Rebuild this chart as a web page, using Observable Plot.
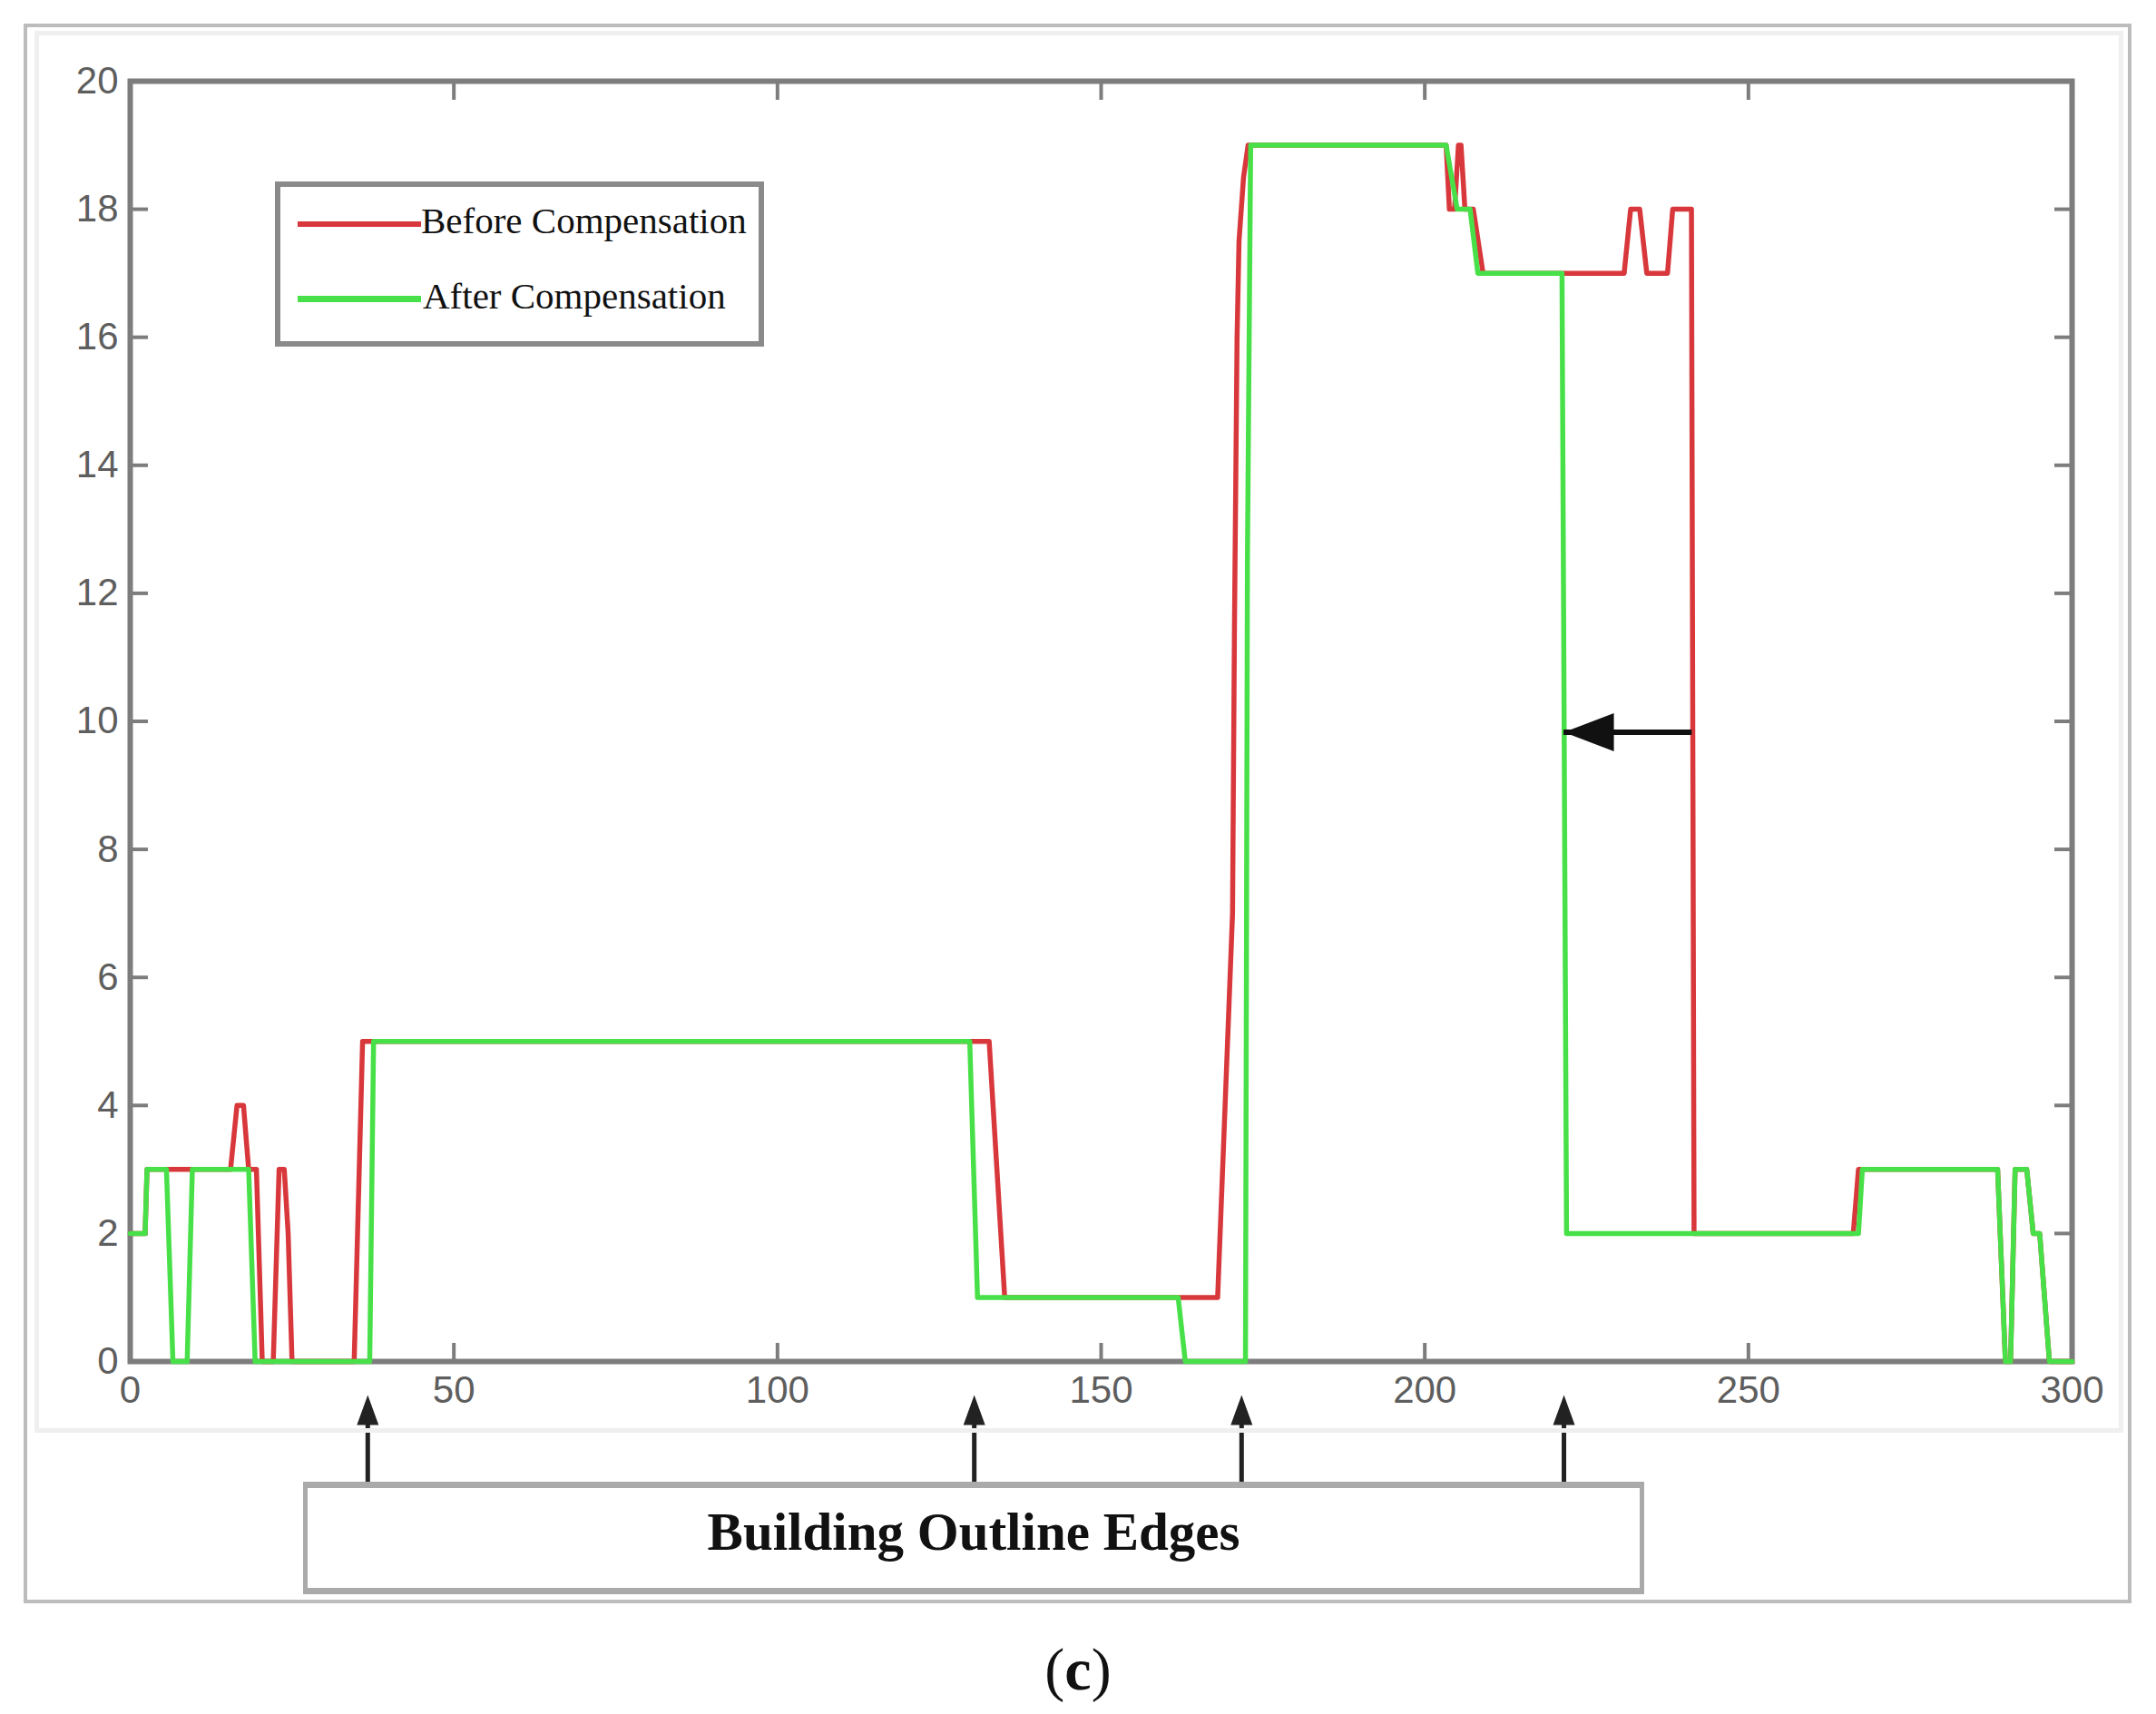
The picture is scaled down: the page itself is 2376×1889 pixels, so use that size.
<!DOCTYPE html>
<html><head><meta charset="utf-8">
<script src="https://cdn.jsdelivr.net/npm/d3@7"></script>
<script src="https://cdn.jsdelivr.net/npm/@observablehq/plot@0.6"></script>
<style>
html,body{margin:0;padding:0;background:#fff;}
#wrap{position:relative;width:2376px;height:1889px;overflow:hidden;background:#fff;}
#wrap svg{position:absolute;left:0;top:0;}
.abs{position:absolute;box-sizing:border-box;}
.serif{font-family:"Liberation Serif","Times New Roman",serif;color:#111;white-space:nowrap;line-height:1;}
</style></head><body><div id="wrap"></div>
<script>
// ---- data ----
const xTicks = [0, 50, 100, 150, 200, 250, 300];
const yTicks = [0, 2, 4, 6, 8, 10, 12, 14, 16, 18, 20];

const beforeX = [0, 2.3, 2.6, 15.5, 16.5, 17.5, 18.3, 19.5, 20.4, 22.1, 23, 23.8, 24.4, 25, 34.6, 35.9, 132.7, 135.1, 168, 170.3, 170.6, 171, 171.3, 172, 172.7, 203.3, 203.8, 204.6, 205.2, 205.6, 206.2, 207.5, 209, 230.8, 231.8, 233.2, 234.3, 237.5, 238.3, 241.2, 241.6, 266.2, 267, 288.5, 289.7, 290.5, 291.2, 293, 294, 295, 296.5, 300];
const beforeY = [2, 2, 3, 3, 4, 4, 3, 3, 0, 0, 3, 3, 2, 0, 0, 5, 5, 1, 1, 7, 11.5, 16, 17.5, 18.5, 19, 19, 18, 18, 19, 19, 18, 18, 17, 17, 18, 18, 17, 17, 18, 18, 2, 2, 3, 3, 0, 0, 3, 3, 2, 2, 0, 0];

const afterX = [0, 2.3, 2.6, 5.6, 6.6, 8.8, 9.6, 18.3, 19.3, 37, 37.6, 129.7, 130.9, 161.9, 163, 172.3, 172.6, 173.1, 203.3, 205, 207, 208.2, 221.2, 221.9, 267, 267.6, 288.5, 289.7, 290.5, 291.2, 293, 294, 295, 296.5, 300];
const afterY = [2, 2, 3, 3, 0, 0, 3, 3, 0, 0, 5, 5, 1, 1, 0, 0, 12.5, 19, 19, 18, 18, 17, 17, 2, 2, 3, 3, 0, 0, 3, 3, 2, 2, 0, 0];

const seriesNames = ["Before Compensation", "After Compensation"];
const seriesColors = ["#d8373b", "#48e048"];

const edgeX = [36.7, 130.4, 171.7, 221.5];          // building outline edges (arrows)
const shiftFrom = [241.3], shiftTo = [221.5], shiftY = [9.83]; // compensation shift arrow

// ---- tables ----
const before = beforeX.map((x, i) => ({x, y: beforeY[i]}));
const after = afterX.map((x, i) => ({x, y: afterY[i]}));
const shift = shiftFrom.map((f, i) => ({from: f, to: shiftTo[i], y: shiftY[i]}));

// custom arrow symbols (pixel shapes)
const upArrow = {draw(c) {
  c.moveTo(0, 0); c.lineTo(12, 33); c.lineTo(2.5, 33); c.lineTo(2.5, 96);
  c.lineTo(-2.5, 96); c.lineTo(-2.5, 33); c.lineTo(-12, 33); c.closePath();
}};
const leftHead = {draw(c) {
  c.moveTo(0, 0); c.lineTo(55, -21); c.lineTo(55, 21); c.closePath();
}};

const fmt = d => String(d);
const axisStyle = {stroke: "#7d7d7d", strokeWidth: 4};
const labelStyle = {fontSize: 42, fill: "#5e5e5e", tickSize: 0, tickFormat: fmt};

const chart = Plot.plot({
  width: 2376, height: 1889,
  marginLeft: 143, marginRight: 93, marginTop: 89, marginBottom: 389,
  style: {fontFamily: "'Liberation Sans', Arial, sans-serif", background: "transparent"},
  x: {domain: [0, 300], label: null},
  y: {domain: [0, 20], label: null},
  marks: [
    Plot.frame({stroke: "#7d7d7d", strokeWidth: 6}),
    Plot.axisX(xTicks, {anchor: "bottom", tickSize: -20, tickFormat: () => "", label: null, ...axisStyle}),
    Plot.axisX(xTicks, {anchor: "top", tickSize: -20, tickFormat: () => "", label: null, ...axisStyle}),
    Plot.axisY(yTicks, {anchor: "left", tickSize: -20, tickFormat: () => "", label: null, ...axisStyle}),
    Plot.axisY(yTicks, {anchor: "right", tickSize: -20, tickFormat: () => "", label: null, ...axisStyle}),
    Plot.axisX(xTicks, {anchor: "bottom", tickPadding: 16, label: null, ...labelStyle}),
    Plot.axisY(yTicks, {anchor: "left", tickPadding: 13, label: null, ...labelStyle}),
    Plot.line(before, {x: "x", y: "y", stroke: seriesColors[0], strokeWidth: 5.5}),
    Plot.line(after, {x: "x", y: "y", stroke: seriesColors[1], strokeWidth: 5.5}),
    Plot.ruleY(shift, {y: "y", x1: "from", x2: "to", stroke: "#111", strokeWidth: 6}),
    Plot.dot(shift, {x: "to", y: "y", symbol: leftHead, fill: "#111", stroke: "none"}),
    Plot.dot(edgeX, {x: d => d, frameAnchor: "bottom", dy: 37, symbol: upArrow, fill: "#222", stroke: "none"})
  ]
});

const wrap = document.getElementById("wrap");
wrap.appendChild(chart);

function add(html) { wrap.insertAdjacentHTML("beforeend", html); }
// figure frames
add(`<div class="abs" style="left:26px;top:26px;width:2323px;height:1741px;border:4px solid #bcbcbc"></div>`);
add(`<div class="abs" style="left:38px;top:34px;width:2302px;height:1545px;border:5px solid #efefef"></div>`);
// legend
add(`<div class="abs" style="left:303px;top:200px;width:539px;height:182px;border:6px solid #8a8a8a;background:#fff"></div>`);
add(`<div class="abs" style="left:328px;top:244px;width:136px;height:6px;background:${seriesColors[0]}"></div>`);
add(`<div class="abs" style="left:328px;top:326px;width:136px;height:7px;background:${seriesColors[1]}"></div>`);
add(`<div class="abs serif" style="left:464px;top:223px;font-size:41px">${seriesNames[0]}</div>`);
add(`<div class="abs serif" style="left:466px;top:306px;font-size:41px">${seriesNames[1]}</div>`);
// annotation box
add(`<div class="abs" style="left:334px;top:1633px;width:1478px;height:124px;border:5px solid #aaaaaa;border-top-width:7px;border-bottom-width:7px"></div>`);
add(`<div class="abs serif" style="left:334px;width:1478px;top:1659px;text-align:center;font-size:59px;font-weight:bold">Building Outline Edges</div>`);
// caption
add(`<div class="abs serif" style="left:0;width:2376px;top:1807px;text-align:center;font-size:66px">(<b>c</b>)</div>`);
</script></body></html>
